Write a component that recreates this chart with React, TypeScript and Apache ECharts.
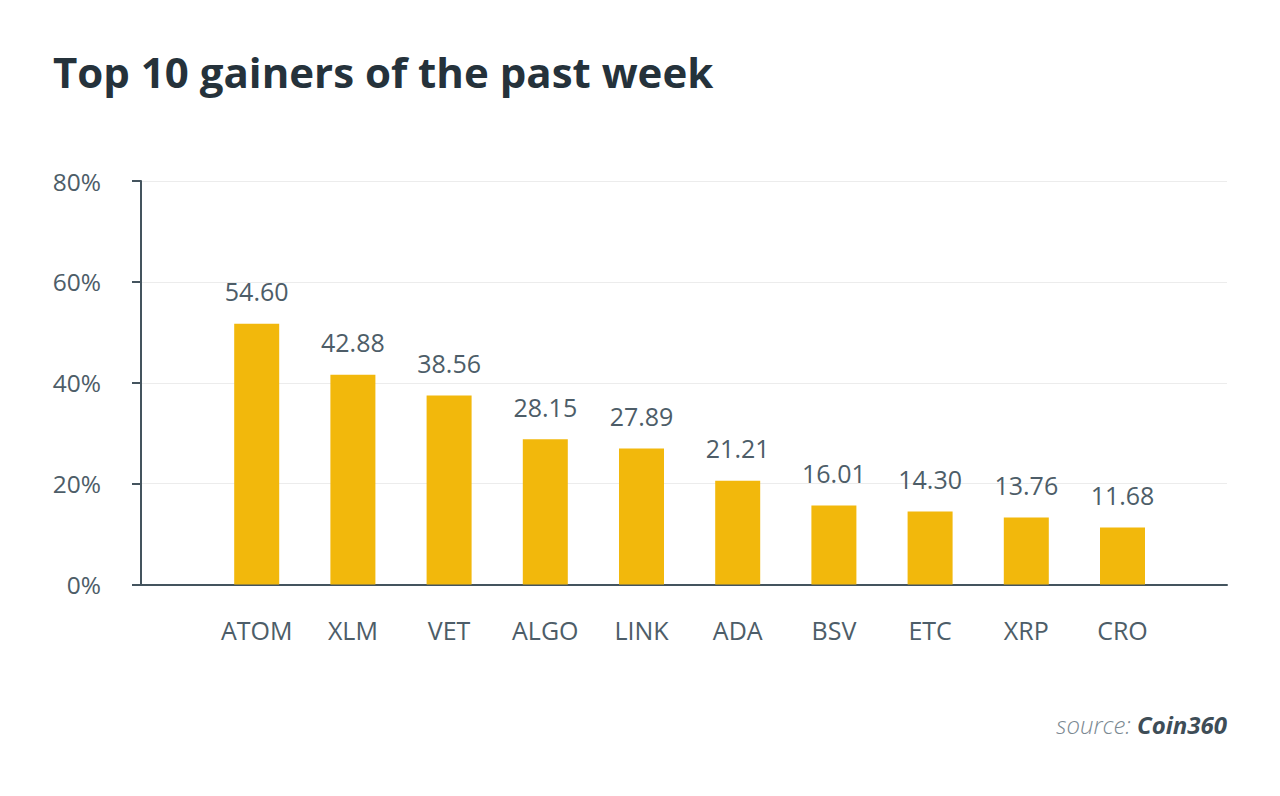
import React, { useEffect, useRef } from "react";
import * as echarts from "echarts";

const categories = ["ATOM", "XLM", "VET", "ALGO", "LINK", "ADA", "BSV", "ETC", "XRP", "CRO"];
const barValues = [51.7, 41.6, 37.5, 28.8, 27.0, 20.6, 15.7, 14.5, 13.3, 11.3];
const valueLabels = ["54.60", "42.88", "38.56", "28.15", "27.89", "21.21", "16.01", "14.30", "13.76", "11.68"];
const yTicks = [0, 20, 40, 60, 80];

const FONT = "'Open Sans', 'Noto Sans', sans-serif";
const TEXT = "#4d5d68";
const AXIS = "#44545e";

export default function App() {
  const ref = useRef<HTMLDivElement>(null);
  useEffect(() => {
    document.body.style.margin = "0";
    if (!ref.current) return;
    const chart = echarts.init(ref.current, null, { renderer: "svg" });
    const top = 181;
    const bottom = 796 - 584.6;
    chart.setOption({
      animation: false,
      backgroundColor: "#ffffff",
      textStyle: { fontFamily: FONT },
      title: {
        text: "Top 10 gainers of the past week",
        left: 48,
        top: 45,
        textStyle: { fontFamily: FONT, fontSize: 42, fontWeight: 700, color: "#25323b" },
      },
      graphic: [
        {
          type: "text",
          right: 53,
          top: 712,
          style: {
            text: "{a|source: }{b|Coin360}",
            rich: {
              a: { fontFamily: FONT, fontSize: 24, fontStyle: "italic", fontWeight: 300, fill: "#7b8992" },
              b: { fontFamily: FONT, fontSize: 24, fontStyle: "italic", fontWeight: 700, fill: "#3e4d57" },
            },
          },
        },
      ],
      grid: [
        { left: 141, right: 53, top, bottom },
        { left: 208.6, right: 109.4, top, bottom },
      ],
      xAxis: [
        {
          type: "value",
          gridIndex: 0,
          min: 0,
          max: 1,
          axisLine: { show: true, onZero: false, lineStyle: { color: AXIS, width: 2 } },
          axisTick: { show: false },
          axisLabel: { show: false },
          splitLine: { show: false },
        },
        {
          type: "category",
          gridIndex: 1,
          data: categories,
          axisLine: { show: false },
          axisTick: { show: false },
          axisLabel: { color: TEXT, fontSize: 25, fontFamily: FONT, margin: 33 },
        },
      ],
      yAxis: [
        {
          type: "value",
          gridIndex: 0,
          min: yTicks[0],
          max: yTicks[yTicks.length - 1],
          interval: 20,
          axisLine: { show: true, lineStyle: { color: AXIS, width: 2 } },
          axisTick: { show: true, length: 9, lineStyle: { color: AXIS, width: 2 } },
          axisLabel: { color: TEXT, fontSize: 24.5, fontFamily: FONT, margin: 40, formatter: "{value}%" },
          splitLine: { show: true, lineStyle: { color: "#ececec", width: 1 } },
        },
        {
          type: "value",
          gridIndex: 1,
          min: yTicks[0],
          max: yTicks[yTicks.length - 1],
          show: false,
          splitLine: { show: false },
        },
      ],
      series: [
        {
          type: "bar",
          xAxisIndex: 1,
          yAxisIndex: 1,
          data: barValues,
          barWidth: 45,
          itemStyle: { color: "#f2b80c" },
          label: {
            show: true,
            position: "top",
            distance: 20,
            color: TEXT,
            fontSize: 25,
            fontFamily: FONT,
            formatter: (p: any) => valueLabels[p.dataIndex],
          },
        },
      ],
    });
    return () => chart.dispose();
  }, []);
  return <div ref={ref} style={{ width: 1280, height: 796 }} />;
}
